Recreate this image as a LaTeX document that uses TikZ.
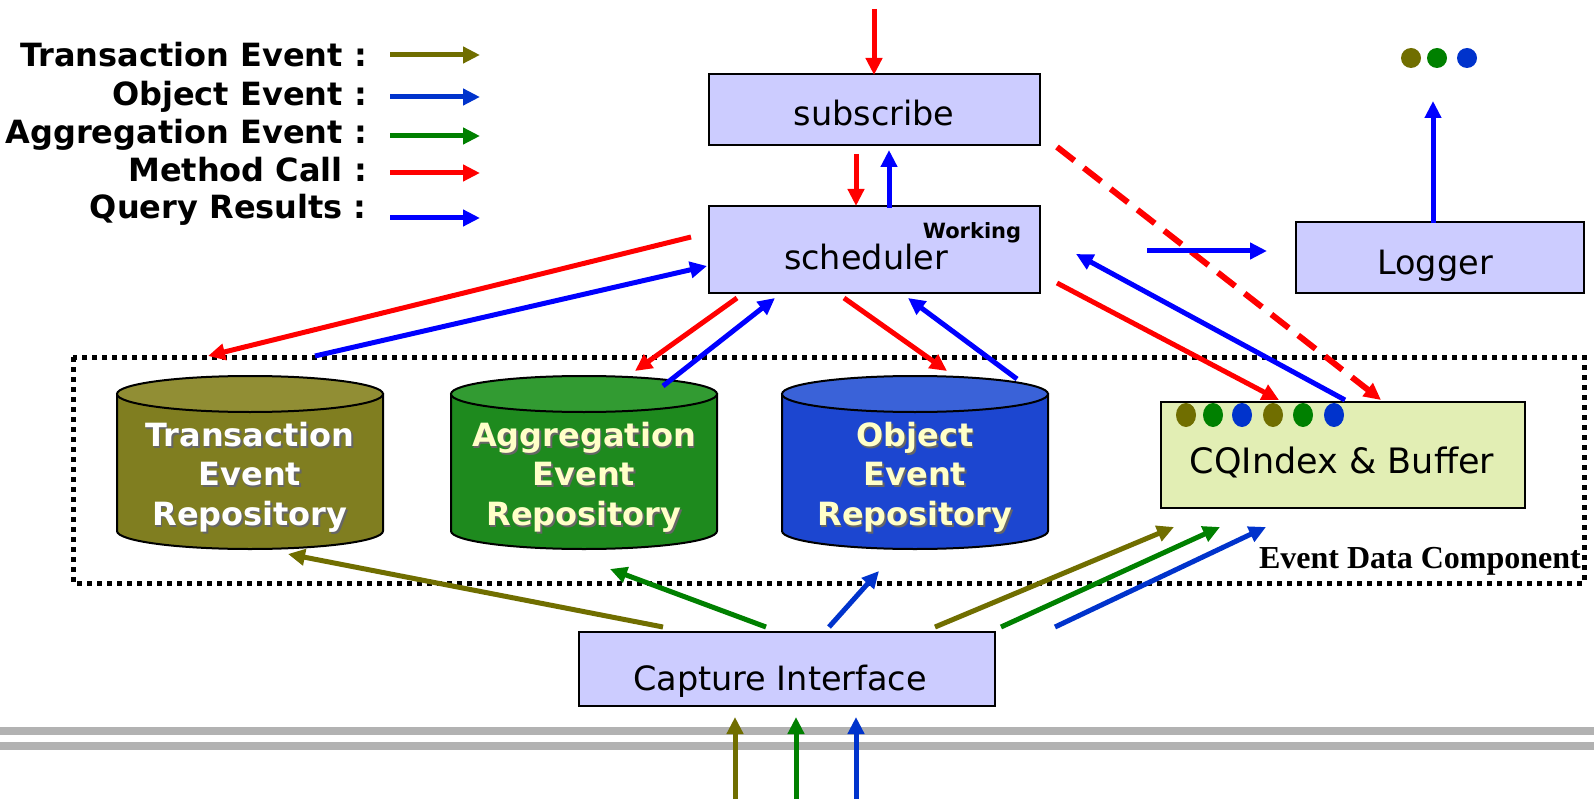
\documentclass[tikz,border=0pt]{standalone}
\usepackage{fontspec}
\setmainfont{DejaVu Sans}
\newfontfamily\edcfont{Liberation Serif}
\usetikzlibrary{arrows.meta}
\definecolor{olv}{RGB}{112,110,0}
\definecolor{grn}{RGB}{0,128,0}
\definecolor{oblue}{RGB}{0,51,204}
\definecolor{qblue}{RGB}{0,0,255}
\definecolor{mred}{RGB}{255,0,0}
\definecolor{boxfill}{RGB}{204,204,255}
\definecolor{cqfill}{RGB}{226,238,180}
\definecolor{tbody}{RGB}{128,126,32}
\definecolor{ttop}{RGB}{145,142,52}
\definecolor{abody}{RGB}{30,138,30}
\definecolor{atop}{RGB}{50,155,50}
\definecolor{obody}{RGB}{28,70,208}
\definecolor{otop}{RGB}{58,98,216}
\definecolor{cream}{RGB}{255,255,200}
\definecolor{rail}{RGB}{178,178,178}
\newcommand\drawcyl[3]{%
  \fill[#2,draw=black,line width=2pt] (#1-133,394) -- (#1-133,531) arc[start angle=180,end angle=360,x radius=133pt,y radius=18pt] -- (#1+133,394) -- cycle;
  \fill[#3,draw=black,line width=2pt] (#1,394) ellipse[x radius=133pt,y radius=18pt];
}
\begin{document}
\begin{tikzpicture}[x=1pt,y=-1pt,
  arr/.style={line width=5pt,-{Triangle[length=17pt,width=16pt]}},
  box/.style={draw=black,line width=2pt,fill=boxfill,inner sep=0pt},
  boxtxt/.style={font=\fontsize{33.5}{40}\selectfont,anchor=base,inner sep=0pt},
  legtxt/.style={font=\bfseries\fontsize{32}{36}\selectfont,anchor=base east,inner sep=0pt},
  cyltxt/.style={font=\bfseries\fontsize{32}{39.5}\selectfont,align=center,inner sep=0pt}]
\useasboundingbox (0,0) rectangle (1594,799);
\fill[white] (0,0) rectangle (1594,799);

% legend
\node[legtxt] (l1) at (367,67) {Transaction Event :};
\node[legtxt] (l2) at (367,106) {Object Event :};
\node[legtxt] (l3) at (367,144) {Aggregation Event :};
\node[legtxt] (l4) at (367,182) {Method Call :};
\node[legtxt] (l5) at (367,219) {Query Results :};
\coordinate (la1) at (390,55);  \coordinate (lb1) at (480,55);
\coordinate (la2) at (390,97);  \coordinate (lb2) at (480,97);
\coordinate (la3) at (390,136); \coordinate (lb3) at (480,136);
\coordinate (la4) at (390,173); \coordinate (lb4) at (480,173);
\coordinate (la5) at (390,218); \coordinate (lb5) at (480,218);
\draw[arr,olv] (la1) -- (lb1);
\draw[arr,oblue] (la2) -- (lb2);
\draw[arr,grn] (la3) -- (lb3);
\draw[arr,mred] (la4) -- (lb4);
\draw[arr,qblue] (la5) -- (lb5);

% rails
\draw[rail,line width=8pt] (0,731) -- (1594,731);
\draw[rail,line width=8pt] (0,746) -- (1594,746);

% boxes
\node[box,minimum width=331pt,minimum height=71pt] (sub) at (874.5,110) {};
\node[boxtxt] (subt) at (874,126) {subscribe};
\node[box,minimum width=331pt,minimum height=87pt] (sched) at (874.5,249.5) {};
\node[boxtxt] (schedt) at (866,270) {scheduler};
\node[font=\bfseries\fontsize{21}{25}\selectfont,anchor=base,inner sep=0pt] (work) at (972,239) {Working};
\node[box,minimum width=288pt,minimum height=71pt] (log) at (1440,258) {};
\node[boxtxt] (logt) at (1435,275) {Logger};
\node[box,minimum width=416pt,minimum height=74pt] (cap) at (787,669) {};
\node[boxtxt] (capt) at (780,690) {Capture Interface};

% event data component
\draw[line width=5pt,dash pattern=on 5pt off 5pt] (73,357) rectangle (1584,583);
\node[font=\edcfont\bfseries\fontsize{32}{36}\selectfont,anchor=base east,inner sep=0pt] (edc) at (1581,568) {Event Data Component};

% cylinders
\drawcyl{250}{tbody}{ttop}
\drawcyl{584}{abody}{atop}
\drawcyl{915}{obody}{otop}
\node[inner sep=0pt,minimum width=266pt,minimum height=173pt] (trep) at (250,462.5) {};
\node[inner sep=0pt,minimum width=270pt,minimum height=173pt] (arep) at (584,462.5) {};
\node[inner sep=0pt,minimum width=264pt,minimum height=173pt] (orep) at (915,462.5) {};
\node[cyltxt,text=black!60] at (251.5,479) {Transaction\\Event\\Repository};
\node[cyltxt,text=white] (trept) at (250,477) {Transaction\\Event\\Repository};
\node[cyltxt,text=black!60] at (585.5,479) {Aggregation\\Event\\Repository};
\node[cyltxt,text=cream] (arept) at (584,477) {Aggregation\\Event\\Repository};
\node[cyltxt,text=black!60] at (916.5,479) {Object\\Event\\Repository};
\node[cyltxt,text=cream] (orept) at (915,477) {Object\\Event\\Repository};

% CQIndex
\node[draw=black,line width=2pt,fill=cqfill,minimum width=364pt,minimum height=106pt,inner sep=0pt] (cq) at (1343,455) {};
\node[boxtxt,font=\fontsize{35}{40}\selectfont] (cqt) at (1342,473) {CQIndex \& Buffer};
\fill[olv] (1186,415) ellipse[x radius=10pt,y radius=12pt];
\fill[grn] (1213,415) ellipse[x radius=10pt,y radius=12pt];
\fill[oblue] (1242,415) ellipse[x radius=10pt,y radius=12pt];
\fill[olv] (1273,415) ellipse[x radius=10pt,y radius=12pt];
\fill[grn] (1303,415) ellipse[x radius=10pt,y radius=12pt];
\fill[oblue] (1334,415) ellipse[x radius=10pt,y radius=12pt];

% logger output dots
\fill[olv] (1411,58) circle[radius=10pt];
\fill[grn] (1437,58) circle[radius=10pt];
\fill[oblue] (1467,58) circle[radius=10pt];

% top arrows
\coordinate (in0) at (874,9);
\draw[arr,mred] (in0) -- (874,75);
\draw[arr,mred] (856,154) -- (856,206);
\draw[arr,qblue] (889,208) -- (889,150);
\coordinate (logout) at (1433,101);
\draw[arr,qblue] (1433,223) -- (logout);

% scheduler <-> repositories
\coordinate (s1) at (691,237);  \coordinate (e1) at (208,356);
\coordinate (s2) at (315,356);  \coordinate (e2) at (707,266);
\coordinate (s3) at (737,298);  \coordinate (e3) at (635,371);
\coordinate (s4) at (663,386);  \coordinate (e4) at (775,298);
\coordinate (s5) at (844,298);  \coordinate (e5) at (947,371);
\coordinate (s6) at (1017,379); \coordinate (e6) at (908,298);
\coordinate (s7) at (1057,283); \coordinate (e7) at (1279,400);
\coordinate (s8) at (1345,400); \coordinate (e8) at (1076,254);
\coordinate (s9) at (1057,147); \coordinate (e9) at (1381,400);
\coordinate (s10) at (1147,251); \coordinate (e10) at (1267,251);
\draw[arr,mred] (s1) -- (e1);
\draw[arr,qblue] (s2) -- (e2);
\draw[arr,mred] (s3) -- (e3);
\draw[arr,qblue] (s4) -- (e4);
\draw[arr,mred] (s5) -- (e5);
\draw[arr,qblue] (s6) -- (e6);
\draw[arr,mred] (s7) -- (e7);
\draw[arr,qblue] (s8) -- (e8);
\draw[arr,mred,line width=6pt,dash pattern=on 22pt off 12pt] (s9) -- (e9);
\draw[arr,qblue] (s10) -- (e10);

% capture interface arrows
\coordinate (c1) at (663,627);  \coordinate (d1) at (288,554);
\coordinate (c2) at (766,627);  \coordinate (d2) at (610,569);
\coordinate (c3) at (829,627);  \coordinate (d3) at (879,571);
\coordinate (c4) at (935,627);  \coordinate (d4) at (1174,527);
\coordinate (c5) at (1001,627); \coordinate (d5) at (1220,527);
\coordinate (c6) at (1055,627); \coordinate (d6) at (1266,527);
\draw[arr,olv] (c1) -- (d1);
\draw[arr,grn] (c2) -- (d2);
\draw[arr,oblue] (c3) -- (d3);
\draw[arr,olv] (c4) -- (d4);
\draw[arr,grn] (c5) -- (d5);
\draw[arr,oblue] (c6) -- (d6);

% incoming events
\coordinate (b1) at (735,799); \coordinate (b2) at (796,799); \coordinate (b3) at (856,799);
\draw[arr,olv] (b1) -- (735,717);
\draw[arr,grn] (b2) -- (796,717);
\draw[arr,oblue] (b3) -- (856,717);
\end{tikzpicture}
\end{document}
